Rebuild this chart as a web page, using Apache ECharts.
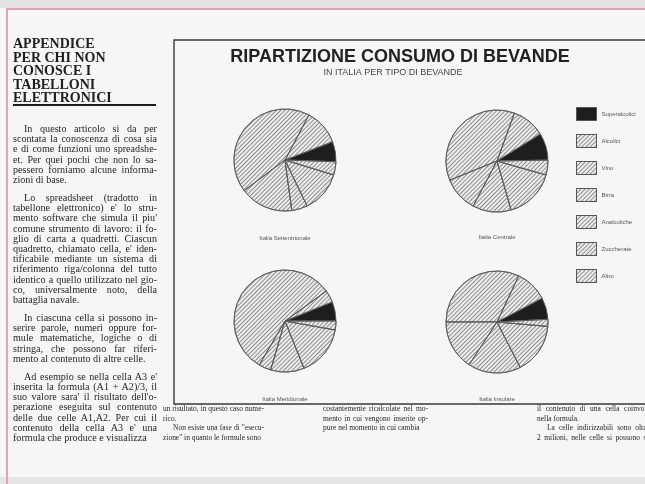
<!DOCTYPE html>
<html><head><meta charset="utf-8">
<script src="https://cdn.jsdelivr.net/npm/echarts@6/dist/echarts.min.js"></script>
<style>
html,body{margin:0;padding:0;width:645px;height:484px;overflow:hidden;background:#f7f6f6;}
#chart{position:absolute;left:0;top:0;width:645px;height:484px;}
.deco{position:absolute;}
.t{position:absolute;white-space:nowrap;font-family:"Liberation Serif","DejaVu Serif",serif;color:#262626;overflow:visible;transform-origin:0 50%;}
.j{text-align:justify;text-align-last:justify;}
.h{position:absolute;white-space:nowrap;font-family:"Liberation Serif","DejaVu Serif",serif;font-weight:bold;color:#1e1e1e;}
</style></head><body>
<div class="deco" style="left:0;top:0;width:645px;height:8px;background:#e4e3e3"></div>
<div class="deco" style="left:0;top:477px;width:645px;height:7px;background:#e6e5e5"></div>
<div class="deco" style="left:6px;top:8px;width:639px;height:2px;background:#e3a3b6"></div>
<div class="deco" style="left:6px;top:8px;width:2px;height:476px;background:#e3a3b6"></div>
<div class="deco" style="left:13px;top:104px;width:143px;height:2px;background:#1e1e1e"></div>
<div id="chart"></div>
<div id="txt"></div>
<script>
// ---- chart data ----
const categories = ['Superalcolici', 'Alcolici', 'Vino', 'Birra', 'Analcoliche', 'Zuccherate', 'Altro'];
const regionNames = ['Italia Settentrionale', 'Italia Centrale', 'Italia Meridionale', 'Italia Insulare'];
const valuesSettentrionale = [6.4, 11.4, 43.0, 16.9, 5.0, 13.1, 4.2];
const valuesCentrale = [8.6, 10.6, 36.7, 11.1, 12.2, 16.1, 4.7];
const valuesMeridionale = [6.1, 3.9, 56.6, 3.9, 10.6, 16.1, 2.8];
const valuesInsulare = [6.9, 10.3, 32.0, 15.8, 16.7, 16.1, 2.2];
const chartTitle = 'RIPARTIZIONE CONSUMO DI BEVANDE';
const chartSubtitle = 'IN ITALIA PER TIPO DI BEVANDE';

// ---- article text ----
const headingLines = ['APPENDICE', 'PER CHI NON', 'CONOSCE I', 'TABELLONI', 'ELETTRONICI'];
const leftColumn = [
  '\tIn questo articolo si da per',
  'scontata la conoscenza di cosa sia',
  'e di come funzioni uno spreadshe-',
  'et. Per quei pochi che non lo sa-',
  'pessero forniamo alcune informa-',
  'zioni di base.',
  '',
  '\tLo spreadsheet (tradotto in',
  'tabellone elettronico) e\' lo stru-',
  'mento software che simula il piu\'',
  'comune strumento di lavoro: il fo-',
  'glio di carta a quadretti. Ciascun',
  'quadretto, chiamato cella, e\' iden-',
  'tificabile mediante un sistema di',
  'riferimento riga/colonna del tutto',
  'identico a quello utilizzato nel gio-',
  'co, universalmente noto, della',
  'battaglia navale.',
  '',
  '\tIn ciascuna cella si possono in-',
  'serire parole, numeri oppure for-',
  'mule matematiche, logiche o di',
  'stringa, che possono far riferi-',
  'mento al contenuto di altre celle.',
  '',
  '\tAd esempio se nella cella A3 e\'',
  'inserita la formula (A1 + A2)/3, il',
  'suo valore sara\' il risultato dell\'o-',
  'perazione eseguita sul contenuto',
  'delle due celle A1,A2. Per cui il',
  'contenuto della cella A3 e\' una',
  'formula che produce e visualizza'
];
const bottomCol1 = [
  'un risultato, in questo caso nume-',
  'rico.',
  '\tNon esiste una fase di "esecu-',
  'zione" in quanto le formule sono'
];
const bottomCol2 = [
  'costantemente ricalcolate nel mo-',
  'mento in cui vengono inserite op-',
  'pure  nel momento in cui cambia'
];
const bottomCol3 = [
  'il contenuto di una cella coinvol-',
  'nella formula.',
  '\tLa celle indirizzabili sono oltre',
  '2 milioni, nelle celle si possono s-'
];

// ---- text layout ----
const txt = document.getElementById('txt');
function placeColumn(lines, x, w, y0, lh, gap, fs, sx, indent, justifyCut) {
  let y = y0;
  lines.forEach((raw, i) => {
    if (raw === '') { y += gap; return; }
    const next = lines[i + 1];
    const isLast = (next === undefined || next === '' || next.charAt(0) === '\t');
    const ind = raw.charAt(0) === '\t' ? indent : 0;
    const d = document.createElement('div');
    const text = raw.replace('\t', '');
    const justify = !isLast || (justifyCut && /(-|oltre)$/.test(text));
    d.className = 't' + (justify ? ' j' : '');
    d.textContent = text;
    d.style.left = (x + ind) + 'px';
    d.style.width = ((w - ind) / sx) + 'px';
    d.style.transform = 'scaleX(' + sx + ')';
    d.style.fontSize = fs + 'px';
    d.style.lineHeight = lh + 'px';
    d.style.top = (y - lh / 2 - 1) + 'px';
    txt.appendChild(d);
    y += lh;
  });
}
headingLines.forEach((s, i) => {
  const d = document.createElement('div');
  d.className = 'h';
  d.textContent = s;
  d.style.left = '13px';
  d.style.fontSize = '14px';
  d.style.lineHeight = '14px';
  d.style.top = (44 + i * 13.5 - 7) + 'px';
  txt.appendChild(d);
});
placeColumn(leftColumn, 13, 144, 129, 10.2, 7.8, 11, 0.92, 11, false);
placeColumn(bottomCol1, 163, 101, 410, 9.5, 0, 8.8, 0.85, 10, false);
placeColumn(bottomCol2, 323, 105, 410, 9.5, 0, 8.8, 0.85, 10, false);
placeColumn(bottomCol3, 537, 112, 410, 9.5, 0, 8.8, 0.85, 10, true);

// ---- chart ----
const pieLayout = [
  { center: [285, 160], start: -2, label: [285, 238] },
  { center: [497, 161], start: 1, label: [497, 237] },
  { center: [285, 321], start: 0, label: [285, 399] },
  { center: [497, 322], start: 3, label: [497, 399] }
];
const seriesValues = [valuesSettentrionale, valuesCentrale, valuesMeridionale, valuesInsulare];
const hatch = { symbol: 'rect', symbolSize: 1, dashArrayX: [1, 0], dashArrayY: [1, 2], rotation: -Math.PI / 4, color: '#8e8e8e' };

const chart = echarts.init(document.getElementById('chart'), null, { renderer: 'canvas' });
const option = {
  backgroundColor: 'transparent',
  animation: false,
  legend: {
    orient: 'vertical', left: 571, top: 102,
    itemWidth: 20, itemHeight: 13, itemGap: 13, icon: 'rect',
    data: categories, selectedMode: false,
    itemStyle: { borderColor: '#555', borderWidth: 1 },
    textStyle: { fontSize: 6, color: '#555', fontFamily: 'Liberation Sans' }
  },
  graphic: [
    { type: 'rect', shape: { x: 174, y: 40, width: 490, height: 364 }, style: { fill: 'none', stroke: '#3a3a3a', lineWidth: 1.4 }, silent: true },
    { type: 'text', x: 400, y: 57, style: { text: chartTitle, font: 'bold 18px "Liberation Sans", Arial, sans-serif', fill: '#222', textAlign: 'center', textVerticalAlign: 'middle', align: 'center', verticalAlign: 'middle' } },
    { type: 'text', x: 393, y: 73, style: { text: chartSubtitle, font: '9px "Liberation Sans", Arial, sans-serif', fill: '#444', textAlign: 'center', textVerticalAlign: 'middle', align: 'center', verticalAlign: 'middle' } }
  ].concat(regionNames.map((n, i) => ({
    type: 'text', x: pieLayout[i].label[0], y: pieLayout[i].label[1],
    style: { text: n, font: '6px "Liberation Sans", Arial, sans-serif', fill: '#555', textAlign: 'center', textVerticalAlign: 'middle', align: 'center', verticalAlign: 'middle' }
  }))),
  series: seriesValues.map((vals, i) => ({
    type: 'pie', name: regionNames[i],
    center: pieLayout[i].center, radius: 51,
    startAngle: pieLayout[i].start, clockwise: false,
    silent: true, avoidLabelOverlap: false,
    label: { show: false }, labelLine: { show: false },
    emphasis: { disabled: true },
    itemStyle: { borderColor: '#5a5a5a', borderWidth: 0.9 },
    data: vals.map((v, k) => ({
      name: categories[k], value: v,
      itemStyle: k === 0 ? { color: '#1e1e1e' } : { color: '#ededed', decal: hatch }
    }))
  }))
};
chart.setOption(option);
</script>
</body></html>
